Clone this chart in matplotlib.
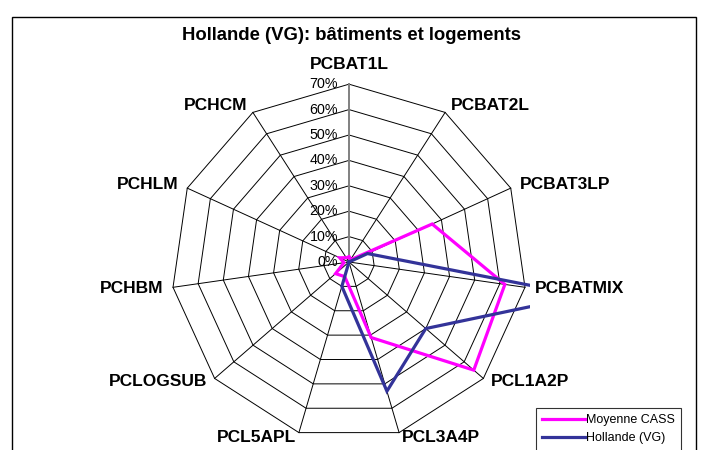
import numpy as np
import matplotlib
matplotlib.use("Agg")
import matplotlib.pyplot as plt
from matplotlib.patches import Rectangle

plt.rcParams['font.family'] = ['Liberation Sans', 'DejaVu Sans']

categories = ['PCBAT1L', 'PCBAT2L', 'PCBAT3LP', 'PCBATMIX', 'PCL1A2P', 'PCL3A4P',
              'PCL5APL', 'PCLOGSUB', 'PCHBM', 'PCHLM', 'PCHCM']
moyenne_cass = [2, 1, 36, 62, 65, 31, 6, 7, 2, 4, 2]
hollande_vg = [0, 0, 8, 93, 40, 53, 10, 0, 0, 0, 0]
ring_values = [10, 20, 30, 40, 50, 60, 70]
ring_labels = ['0%', '10%', '20%', '30%', '40%', '50%', '60%', '70%']

n = len(categories)
angles = np.arange(n) * 2 * np.pi / n  # clockwise from top


def to_xy(vals):
    vals = np.asarray(vals, dtype=float)
    x = vals * np.sin(angles)
    y = vals * np.cos(angles)
    return np.append(x, x[0]), np.append(y, y[0])


fig = plt.figure(figsize=(7.02, 4.5), dpi=100)
# axes box: px 168..530 horizontally, centre at (349, 262), 1% = 2.54 px
ax = fig.add_axes([168 / 702, (450 - 444.9) / 450, 362 / 702, 365.8 / 450])
ax.set_xlim(-71.26, 71.26)
ax.set_ylim(-72, 72)
ax.axis('off')

# polygon grid
for r in ring_values:
    gx, gy = to_xy([r] * n)
    ax.plot(gx, gy, color='black', lw=0.7, zorder=1)
rmax = ring_values[-1]
for i, a in enumerate(angles):
    if i == 0:
        ax.plot([0, 0], [0, rmax], color='#808080', lw=1.4, zorder=2)
    else:
        ax.plot([0, rmax * np.sin(a)], [0, rmax * np.cos(a)], color='black', lw=0.7, zorder=1)

# radial tick labels
for r, lab in zip([0] + ring_values, ring_labels):
    ax.annotate(lab, (0, r), xytext=(-8, 0), textcoords='offset points',
                ha='right', va='center', fontsize=10.3, color='black',
                annotation_clip=False, zorder=3)

# series
mx, my = to_xy(moyenne_cass)
hx, hy = to_xy(hollande_vg)
ax.plot(mx, my, color='#FF00FF', lw=2.3, label='Moyenne CASS', zorder=4, solid_joinstyle='miter')
ax.plot(hx, hy, color='#333399', lw=2.3, label='Hollande (VG)', zorder=5, solid_joinstyle='miter')

# category labels
for lab, a in zip(categories, angles):
    s, c = np.sin(a), np.cos(a)
    px = 0.72
    if c > 0.95:
        ax.annotate(lab, (0, rmax), xytext=(0, 12 * px), textcoords='offset points',
                    ha='center', va='bottom', fontsize=12.5, fontweight='bold',
                    annotation_clip=False)
        continue
    ha = 'left' if s > 0 else 'right'
    dx = 10 * s
    dy = 8 * c if c > 0 else 5 * c
    ax.annotate(lab, (rmax * s, rmax * c), xytext=(dx * px, dy * px),
                textcoords='offset points', ha=ha, va='center', fontsize=12.5,
                fontweight='bold', annotation_clip=False)

fig.text(352 / 702, 1 - 35 / 450, 'Hollande (VG): bâtiments et logements',
         ha='center', va='center', fontsize=13.3, fontweight='bold')

leg = fig.legend(loc='upper left', bbox_to_anchor=(536 / 702, 1 - 408 / 450),
                 fontsize=9, frameon=True, fancybox=False, handlelength=3.4,
                 handletextpad=0.1, borderpad=0.5, labelspacing=0.5,
                 borderaxespad=0)
leg.get_frame().set_edgecolor('black')
leg.get_frame().set_linewidth(0.8)

fig.patches.append(Rectangle((12 / 702, -0.05), (696 - 12) / 702, 1 - 17 / 450 + 0.05,
                             transform=fig.transFigure, fill=False, edgecolor='black',
                             lw=1.0))

fig.savefig('out.png', dpi=100)
